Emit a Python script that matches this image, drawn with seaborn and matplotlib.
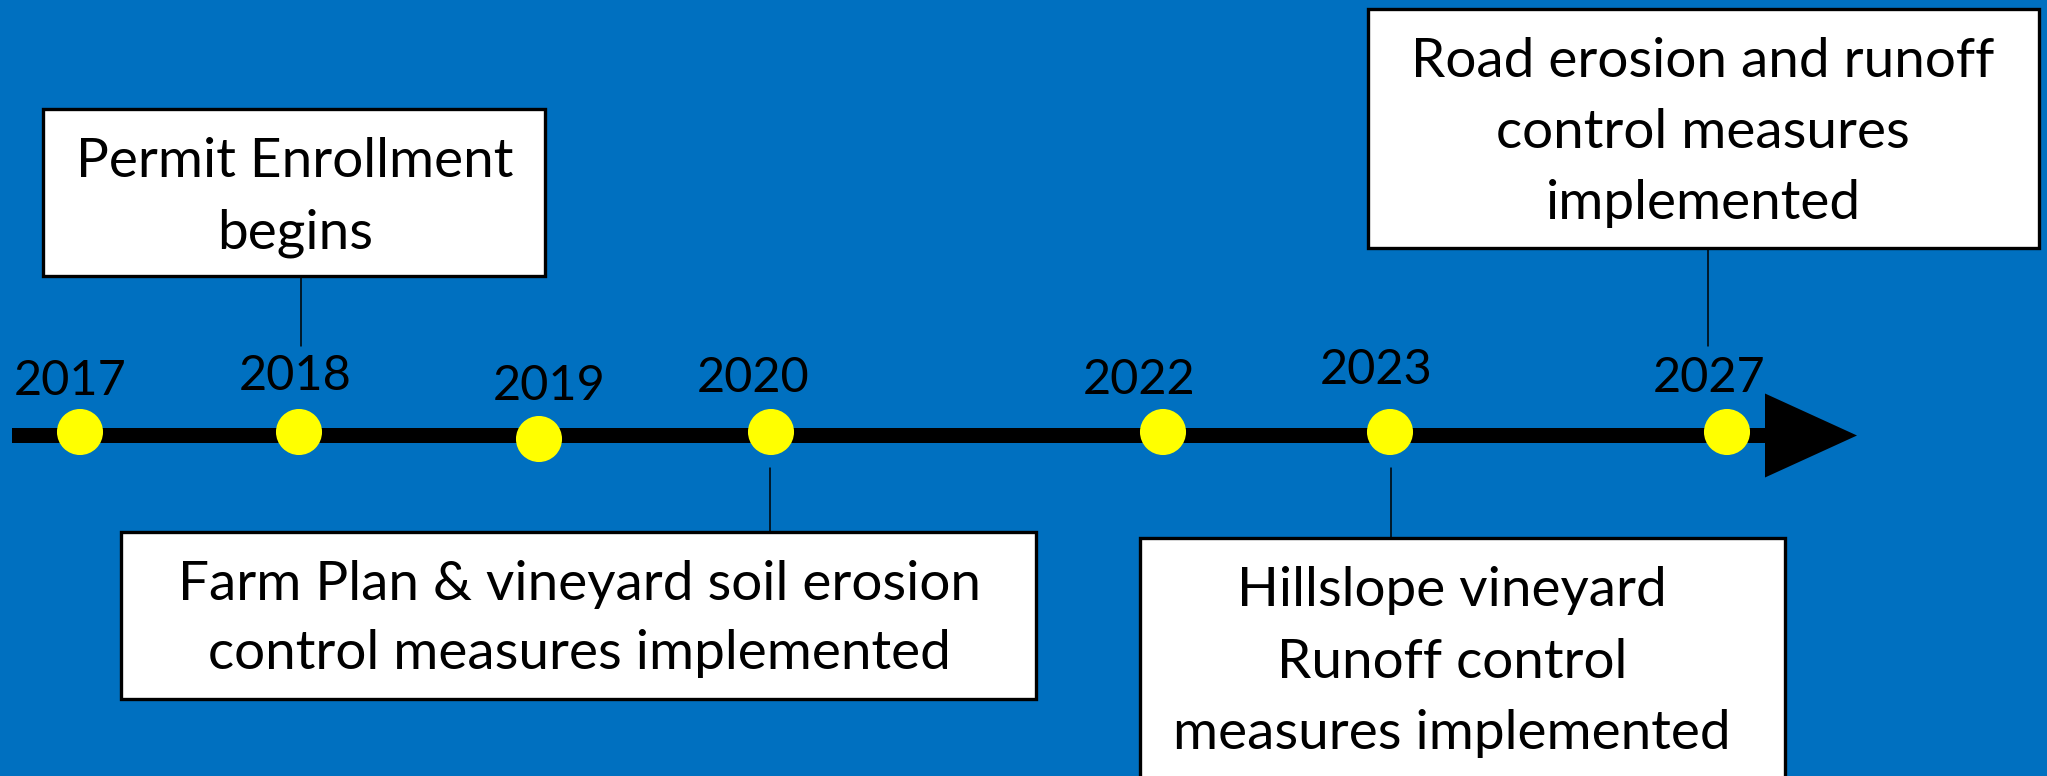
import matplotlib
matplotlib.use('Agg')
import matplotlib.pyplot as plt
from matplotlib.patches import Rectangle, FancyArrow
import seaborn as sns

sns.set_theme(style='white')
plt.rcParams['font.family'] = ['Lato', 'DejaVu Sans']

# timeline milestones (schematic positions in pixels)
years   = ['2017', '2018', '2019', '2020', '2022', '2023', '2027']
dot_x   = [80, 299, 539, 771, 1163, 1390, 1727]
dot_y   = [432, 432, 439, 432, 432, 432, 432]
label_x = [70, 295, 549, 753, 1139, 1376, 1709]
label_y = [395, 390, 400, 392, 394, 384, 392]   # baselines

# event boxes: left, top, right, bottom, text centre, first baseline, lines
box_left   = [43, 1368, 121, 1140]
box_top    = [109, 9, 532, 538]
box_right  = [545, 2039, 1036, 1785]
box_bottom = [276, 248, 699, 780]
text_cx    = [295, 1703, 579, 1452]
first_base = [177, 77, 600, 606]
line_step  = [71, 71, 69, 71.5]
box_lines  = [
    ['Permit Enrollment', 'begins'],
    ['Road erosion and runoff', 'control measures', 'implemented'],
    ['Farm Plan & vineyard soil erosion', 'control measures implemented'],
    ['Hillslope vineyard', 'Runoff control', 'measures implemented'],
]
# thin connector lines: x, y from, y to
conn_x  = [301, 1708, 770, 1391]
conn_y0 = [276, 248, 468, 468]
conn_y1 = [346, 346, 532, 538]

BG = '#0070C0'
W, H = 2047, 776

fig = plt.figure(figsize=(W / 100, H / 100), dpi=100, facecolor=BG)
ax = fig.add_axes([0, 0, 1, 1])
ax.set_facecolor(BG)

# main arrow
ax.add_patch(FancyArrow(12, 435.5, 1845, 0, width=15, head_width=84, head_length=92,
                        length_includes_head=True, color='black', lw=0, zorder=2))

sns.scatterplot(x=dot_x, y=dot_y, s=1100, color='#FFFF00', edgecolor='none',
                ax=ax, zorder=4, legend=False)

for yr, lx, ly in zip(years, label_x, label_y):
    ax.text(lx, ly, yr, ha='center', va='baseline', fontsize=35, color='black')

for cx, y0, y1 in zip(conn_x, conn_y0, conn_y1):
    ax.plot([cx, cx], [y0, y1], color='black', lw=1.1, zorder=1)

for i, lines in enumerate(box_lines):
    ax.add_patch(Rectangle((box_left[i], box_top[i]), box_right[i] - box_left[i],
                           box_bottom[i] - box_top[i], facecolor='white',
                           edgecolor='black', lw=2.4, zorder=3))
    for j, line in enumerate(lines):
        ax.text(text_cx[i], first_base[i] + j * line_step[i], line, ha='center',
                va='baseline', fontsize=39.5, color='black', zorder=5)

ax.set_xlim(0, W)
ax.set_ylim(H, 0)
ax.axis('off')

fig.savefig('out.png', dpi=100, facecolor=BG)
